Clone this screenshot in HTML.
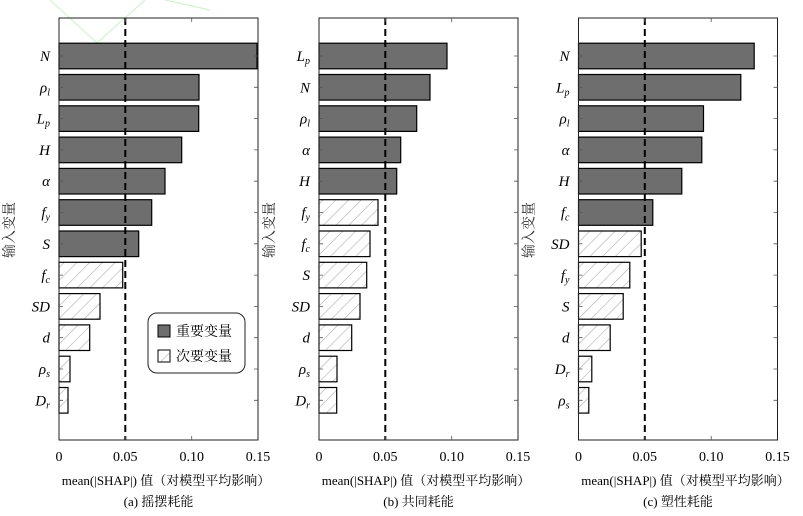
<!DOCTYPE html>
<html><head><meta charset="utf-8"><style>
html,body{margin:0;padding:0;background:#fff;}
svg, svg text{font-family:"Liberation Serif","Noto Serif CJK SC",serif;}
svg{display:block;}
.yl{font-size:15px;font-style:italic;text-anchor:end;}
.yl tspan{font-size:10px;}
.tl{font-size:14px;text-anchor:middle;}
.cap{font-size:13px;text-anchor:middle;}
</style></head><body>
<svg width="803" height="516" viewBox="0 0 803 516" xmlns="http://www.w3.org/2000/svg" font-family="Liberation Serif, Noto Serif CJK SC, serif">
<defs>
<pattern id="h" patternUnits="userSpaceOnUse" width="9" height="9" patternTransform="rotate(45)">
<rect width="9" height="9" fill="#fff"/>
<line x1="0" y1="0" x2="0" y2="9" stroke="#b0b0b0" stroke-width="1.2"/>
</pattern>
<g id="frame" font-family="Liberation Serif, Noto Serif CJK SC, serif">
<rect x="0" y="18" width="199" height="422" fill="none" stroke="#222" stroke-width="1"/>
<line x1="66.3" x2="66.3" y1="18" y2="440" stroke="#000" stroke-width="2" stroke-dasharray="7,4"/>
<path d="M66.3 440v-4M132.7 440v-4M66.3 18v4M132.7 18v4M0 56h4M0 87.3h4M0 118.6h4M0 149.9h4M0 181.2h4M0 212.5h4M0 243.8h4M0 275.1h4M0 306.4h4M0 337.7h4M0 369h4M0 400.3h4M199 56h-4M199 87.3h-4M199 118.6h-4M199 149.9h-4M199 181.2h-4M199 212.5h-4M199 243.8h-4M199 275.1h-4M199 306.4h-4M199 337.7h-4M199 369h-4M199 400.3h-4" stroke="#555" stroke-width="0.8" fill="none"/>
<text class="tl" x="0" y="461">0</text>
<text class="tl" x="66.3" y="461">0.05</text>
<text class="tl" x="132.7" y="461">0.10</text>
<text class="tl" x="199" y="461">0.15</text>
<text class="cap" x="107" y="485">mean(|SHAP|) 值（对模型平均影响）</text>
<text class="cap" transform="translate(-45,230) rotate(-90)" style="font-size:14px" fill="#333">输入变量</text>
</g>
</defs>
<g stroke="#c8f0c8" stroke-width="1.2" fill="none" opacity="0.8">
<polyline points="50,0 97,43 145,0"/>
<polyline points="165,0 210,10"/>
</g>

<!-- Panel a -->
<g transform="translate(59,0)">
<g stroke="#000" stroke-width="1.2">
<rect x="0" y="43.2" width="198" height="25.6" fill="#6e6e6e"/>
<rect x="0" y="74.5" width="140" height="25.6" fill="#6e6e6e"/>
<rect x="0" y="105.8" width="139.7" height="25.6" fill="#6e6e6e"/>
<rect x="0" y="137.1" width="122.7" height="25.6" fill="#6e6e6e"/>
<rect x="0" y="168.4" width="106" height="25.6" fill="#6e6e6e"/>
<rect x="0" y="199.7" width="92.7" height="25.6" fill="#6e6e6e"/>
<rect x="0" y="231" width="79.7" height="25.6" fill="#6e6e6e"/>
<rect x="0" y="262.3" width="63.7" height="25.6" fill="url(#h)"/>
<rect x="0" y="293.6" width="41" height="25.6" fill="url(#h)"/>
<rect x="0" y="324.9" width="30.7" height="25.6" fill="url(#h)"/>
<rect x="0" y="356.2" width="11" height="25.6" fill="url(#h)"/>
<rect x="0" y="387.5" width="9" height="25.6" fill="url(#h)"/>
</g>
<use href="#frame"/>
<g>
<text class="yl" x="-9" y="61">N</text>
<text class="yl" x="-9" y="92.3">ρ<tspan dy="3">l</tspan></text>
<text class="yl" x="-9" y="123.6">L<tspan dy="3">p</tspan></text>
<text class="yl" x="-9" y="154.9">H</text>
<text class="yl" x="-9" y="186.2">α</text>
<text class="yl" x="-9" y="217.5">f<tspan dy="3">y</tspan></text>
<text class="yl" x="-9" y="248.8">S</text>
<text class="yl" x="-9" y="280.1">f<tspan dy="3">c</tspan></text>
<text class="yl" x="-9" y="311.4">SD</text>
<text class="yl" x="-9" y="342.7">d</text>
<text class="yl" x="-9" y="374">ρ<tspan dy="3">s</tspan></text>
<text class="yl" x="-9" y="405.3">D<tspan dy="3">r</tspan></text>
</g>
<text class="cap" x="99.5" y="506">(a) 摇摆耗能</text>
</g>

<!-- Panel b -->
<g transform="translate(319,0)">
<g stroke="#000" stroke-width="1.2">
<rect x="0" y="43.2" width="128" height="25.6" fill="#6e6e6e"/>
<rect x="0" y="74.5" width="111" height="25.6" fill="#6e6e6e"/>
<rect x="0" y="105.8" width="97.7" height="25.6" fill="#6e6e6e"/>
<rect x="0" y="137.1" width="81.7" height="25.6" fill="#6e6e6e"/>
<rect x="0" y="168.4" width="77.7" height="25.6" fill="#6e6e6e"/>
<rect x="0" y="199.7" width="59" height="25.6" fill="url(#h)"/>
<rect x="0" y="231" width="51" height="25.6" fill="url(#h)"/>
<rect x="0" y="262.3" width="47.7" height="25.6" fill="url(#h)"/>
<rect x="0" y="293.6" width="41" height="25.6" fill="url(#h)"/>
<rect x="0" y="324.9" width="32.7" height="25.6" fill="url(#h)"/>
<rect x="0" y="356.2" width="18" height="25.6" fill="url(#h)"/>
<rect x="0" y="387.5" width="17.7" height="25.6" fill="url(#h)"/>
</g>
<use href="#frame"/>
<g>
<text class="yl" x="-9" y="61">L<tspan dy="3">p</tspan></text>
<text class="yl" x="-9" y="92.3">N</text>
<text class="yl" x="-9" y="123.6">ρ<tspan dy="3">l</tspan></text>
<text class="yl" x="-9" y="154.9">α</text>
<text class="yl" x="-9" y="186.2">H</text>
<text class="yl" x="-9" y="217.5">f<tspan dy="3">y</tspan></text>
<text class="yl" x="-9" y="248.8">f<tspan dy="3">c</tspan></text>
<text class="yl" x="-9" y="280.1">S</text>
<text class="yl" x="-9" y="311.4">SD</text>
<text class="yl" x="-9" y="342.7">d</text>
<text class="yl" x="-9" y="374">ρ<tspan dy="3">s</tspan></text>
<text class="yl" x="-9" y="405.3">D<tspan dy="3">r</tspan></text>
</g>
<text class="cap" x="99.5" y="506">(b) 共同耗能</text>
</g>

<!-- Panel c -->
<g transform="translate(578.5,0)">
<g stroke="#000" stroke-width="1.2">
<rect x="0" y="43.2" width="175.7" height="25.6" fill="#6e6e6e"/>
<rect x="0" y="74.5" width="162.3" height="25.6" fill="#6e6e6e"/>
<rect x="0" y="105.8" width="125" height="25.6" fill="#6e6e6e"/>
<rect x="0" y="137.1" width="123.3" height="25.6" fill="#6e6e6e"/>
<rect x="0" y="168.4" width="103.3" height="25.6" fill="#6e6e6e"/>
<rect x="0" y="199.7" width="74.3" height="25.6" fill="#6e6e6e"/>
<rect x="0" y="231" width="62.7" height="25.6" fill="url(#h)"/>
<rect x="0" y="262.3" width="51.3" height="25.6" fill="url(#h)"/>
<rect x="0" y="293.6" width="44.7" height="25.6" fill="url(#h)"/>
<rect x="0" y="324.9" width="31.7" height="25.6" fill="url(#h)"/>
<rect x="0" y="356.2" width="13.3" height="25.6" fill="url(#h)"/>
<rect x="0" y="387.5" width="10.3" height="25.6" fill="url(#h)"/>
</g>
<use href="#frame"/>
<g>
<text class="yl" x="-9" y="61">N</text>
<text class="yl" x="-9" y="92.3">L<tspan dy="3">p</tspan></text>
<text class="yl" x="-9" y="123.6">ρ<tspan dy="3">l</tspan></text>
<text class="yl" x="-9" y="154.9">α</text>
<text class="yl" x="-9" y="186.2">H</text>
<text class="yl" x="-9" y="217.5">f<tspan dy="3">c</tspan></text>
<text class="yl" x="-9" y="248.8">SD</text>
<text class="yl" x="-9" y="280.1">f<tspan dy="3">y</tspan></text>
<text class="yl" x="-9" y="311.4">S</text>
<text class="yl" x="-9" y="342.7">d</text>
<text class="yl" x="-9" y="374">D<tspan dy="3">r</tspan></text>
<text class="yl" x="-9" y="405.3">ρ<tspan dy="3">s</tspan></text>
</g>
<text class="cap" x="99.5" y="506">(c) 塑性耗能</text>
</g>

<!-- Legend -->
<rect x="148" y="313" width="97" height="60" rx="9" fill="#fff" stroke="#222" stroke-width="1"/>
<rect x="158" y="325" width="12" height="12" fill="#6e6e6e" stroke="#000"/>
<text x="176" y="336" font-size="14">重要变量</text>
<rect x="158" y="350" width="12" height="12" fill="url(#h)" stroke="#000"/>
<text x="176" y="361" font-size="14">次要变量</text>
</svg>
</body></html>
